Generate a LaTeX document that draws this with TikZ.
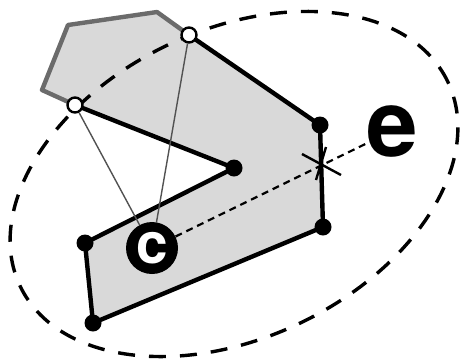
\documentclass[tikz,border=0pt]{standalone}
\usepackage{fontspec}
\setmainfont{TeX Gyre Heros}
\begin{document}
\begin{tikzpicture}[x=1bp,y=-1bp,
  blk/.style={line width=4.4bp,line join=round,line cap=round},
  gry/.style={line width=4.4bp,draw=black!58,line join=round,line cap=round},
  thin/.style={line width=1.4bp,draw=black!68},
  dot/.style={circle,fill=black,inner sep=0,minimum size=17bp},
  wdot/.style={circle,fill=white,draw=black,line width=2.4bp,inner sep=0,minimum size=15bp},
  ell/.style={line width=3.4bp,dash pattern=on 17bp off 14bp},
  ray/.style={line width=2.2bp,dash pattern=on 7bp off 5bp},
  lab/.style={circle,fill=black,inner sep=0,minimum size=52bp,text=white,font=\fontsize{57}{57}\selectfont\bfseries}]
\useasboundingbox (0,0) rectangle (463,360);
\coordinate (A) at (75,105);
\coordinate (G1) at (42,90);
\coordinate (G2) at (68,25);
\coordinate (G3) at (157,12);
\coordinate (B) at (189,35);
\coordinate (P1) at (320,125);
\coordinate (P2) at (323,227);
\coordinate (P3) at (93,323);
\coordinate (P4) at (85,243);
\coordinate (P5) at (234,168);
\coordinate (X) at (321,164);
\coordinate (EC) at (234,184);
% fill
\fill[black!15] (A) -- (G1) -- (G2) -- (G3) -- (B) -- (P1) -- (P2) -- (P3) -- (P4) -- (P5) -- cycle;
\draw[gry] (A) -- (G1) -- (G2) -- (G3) -- (B);
\draw[blk] (B) -- (P1) -- (P2) -- (P3) -- (P4) -- (P5) -- (A);
% ellipse
\draw[ell,rotate around={25.6:(EC)}] (EC) ellipse [x radius=237bp, y radius=154bp];
% labels and points
\node[lab] (c) at (152,248) {c};
\node[inner sep=0,font=\fontsize{93}{93}\selectfont\bfseries] (e) at (392,131) {e};
\node[wdot] (a) at (A) {};
\node[wdot] (b) at (B) {};
\draw[thin] (a) -- (c);
\draw[thin] (b) -- (c);
\draw[ray] (c) -- (e);
\draw[line width=2.4bp] (X) ++(-19,-10) -- ++(39,21);
\draw[line width=2.4bp] (X) ++(-5,16) -- ++(10,-33);
\node[dot] (p1) at (P1) {};
\node[dot] (p2) at (P2) {};
\node[dot] (p3) at (P3) {};
\node[dot] (p4) at (P4) {};
\node[dot] (p5) at (P5) {};
\end{tikzpicture}
\end{document}
